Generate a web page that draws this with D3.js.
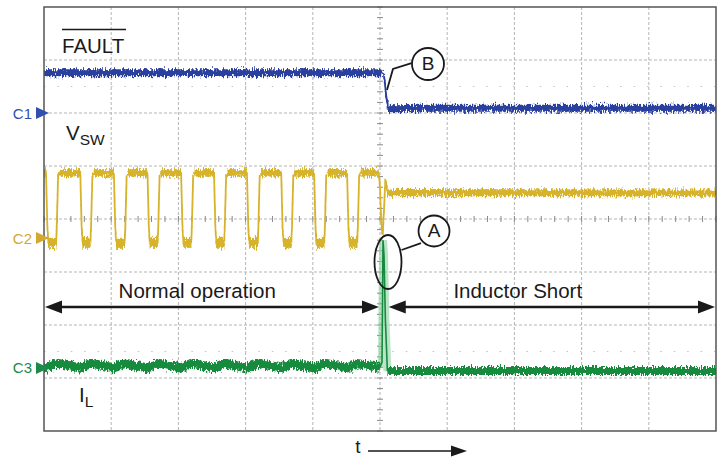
<!DOCTYPE html>
<html><head><meta charset="utf-8">
<script src="https://cdn.jsdelivr.net/npm/d3@7"></script>
<style>
html,body{margin:0;padding:0;background:#fff;}
svg{display:block;font-family:"Liberation Sans",Arial,Helvetica,sans-serif;}
</style></head>
<body>
<svg id="chart" width="720" height="457"></svg>
<script>
// ---- data (time in divisions 0..10, amplitude in divisions -4..4) ----
const xDivisions = [0,1,2,3,4,5,6,7,8,9,10];
const yDivisions = [-4,-3,-2,-1,0,1,2,3,4];
const channelNames = ["C1","C2","C3"];
const channelOffsets = [2.0, -0.36, -2.81];

// C1 : FAULT (blue)
const c1Times  = [0, 5.02, 5.06, 5.09, 5.12, 5.16, 5.6, 10];
const c1Values = [2.76, 2.76, 2.72, 2.35, 2.12, 2.08, 2.09, 2.09];

// C2 : VSW (yellow) switching edges
const c2Falls = [0.03, 0.54, 1.04, 1.54, 2.04, 2.53, 3.02, 3.53, 4.02, 4.51];
const c2Rises = [0.19, 0.70, 1.21, 1.70, 2.20, 2.69, 3.19, 3.69, 4.18, 4.67];
const c2High = 0.87;
const c2Low = -0.45;
const c2TailTimes  = [4.98, 5.00, 5.02, 5.04, 5.06, 5.08, 5.12, 5.20, 10];
const c2TailValues = [0.87, 0.60, -0.10, -0.30, 0.20, 0.74, 0.47, 0.50, 0.49];

// C3 : IL (green)
const c3Times  = [0, 0.03, 0.19, 0.54, 0.70, 1.04, 1.21, 1.54, 1.70, 2.04, 2.20, 2.53, 2.69, 3.02, 3.19, 3.53, 3.69, 4.02, 4.18, 4.51, 4.67, 5.00, 5.03, 5.045, 5.06, 5.08, 5.11, 5.3, 10];
const c3Values = [-2.77,-2.80,-2.72,-2.81,-2.72,-2.81,-2.72,-2.81,-2.72,-2.81,-2.72,-2.81,-2.72,-2.81,-2.72,-2.81,-2.72,-2.81,-2.72,-2.81,-2.73,-2.80,-2.70,-0.40,-0.70,-1.90,-2.87,-2.87,-2.87];

const textLabels = ["FAULT","V","SW","I","L","Normal operation","Inductor Short","A","B","t"];

// ---- layout ----
const svg = d3.select("#chart");
const x = d3.scaleLinear().domain([0,10]).range([44,716]);
const y = d3.scaleLinear().domain([-4,4]).range([431,7]);
const colors = {C1:"#2b3f9f", C2:"#d6b32b", C3:"#168a3c"};
const labelColors = {C1:"#3050b0", C2:"#d4a830", C3:"#1c8a48"};

const defs = svg.append("defs");
// deterministic vertical jitter filter to give scope-trace texture
function noiseFilter(id, freq, scale, seed){
  const f = defs.append("filter").attr("id",id).attr("x","-2%").attr("y","-50%").attr("width","104%").attr("height","200%");
  f.append("feTurbulence").attr("type","fractalNoise").attr("baseFrequency",freq).attr("numOctaves",2).attr("seed",seed).attr("result","n");
  f.append("feColorMatrix").attr("in","n").attr("type","matrix")
   .attr("values","0 0 0 0 0.5  0 1 0 0 0  0 0 0 0 0  0 0 0 0 1").attr("result","m");
  f.append("feDisplacementMap").attr("in","SourceGraphic").attr("in2","m").attr("scale",scale)
   .attr("xChannelSelector","R").attr("yChannelSelector","G");
}
noiseFilter("nz1","0.9 0.25",10,3);
noiseFilter("nz2","0.9 0.25",10,7);
noiseFilter("nz3","0.9 0.25",10,11);

// ---- grid ----
const grid = svg.append("g");
grid.selectAll(".vg").data(xDivisions.slice(1,-1)).join("line")
  .attr("x1",d=>x(d)).attr("x2",d=>x(d)).attr("y1",y(4)).attr("y2",y(-4))
  .attr("stroke","#b5b5b5").attr("stroke-width",1).attr("stroke-dasharray","3,2");
grid.selectAll(".hg").data(yDivisions.slice(1,-1)).join("line")
  .attr("x1",x(0)).attr("x2",x(10)).attr("y1",d=>y(d)).attr("y2",d=>y(d))
  .attr("stroke","#b5b5b5").attr("stroke-width",1).attr("stroke-dasharray","3,2");
grid.selectAll(".dg").data([2.5,-2.5]).join("line")
  .attr("x1",x(0)).attr("x2",x(10)).attr("y1",d=>y(d)).attr("y2",d=>y(d))
  .attr("stroke","#c4c4c4").attr("stroke-width",1.2).attr("stroke-dasharray","1.5,11.9");
// centre axes minor ticks
const hTicks = d3.range(0,10.001,0.2);
const vTicks = d3.range(-4,4.001,0.2);
grid.selectAll(".ht").data(hTicks).join("line")
  .attr("x1",d=>x(d)).attr("x2",d=>x(d)).attr("y1",y(0)-3).attr("y2",y(0)+3)
  .attr("stroke","#8a8a8a").attr("stroke-width",1);
grid.selectAll(".vt").data(vTicks).join("line")
  .attr("x1",x(5)-3).attr("x2",x(5)+3).attr("y1",d=>y(d)).attr("y2",d=>y(d))
  .attr("stroke","#8a8a8a").attr("stroke-width",1);

// ---- traces ----
const line = d3.line().x(d=>x(d[0])).y(d=>y(d[1]));

// C1
const c1 = c1Times.map((t,i)=>[t,c1Values[i]]);
const g1 = svg.append("g").attr("filter","url(#nz1)");
g1.append("path").datum(c1).attr("d",line).attr("fill","none")
  .attr("stroke",colors.C1).attr("stroke-width",2);
g1.append("path").datum(c1.slice(0,2)).attr("d",line).attr("fill","none")
  .attr("stroke",colors.C1).attr("stroke-width",7);
g1.append("path").datum(c1.slice(4)).attr("d",line).attr("fill","none")
  .attr("stroke",colors.C1).attr("stroke-width",7);

// C2 build points from edges
const c2 = [[0,c2High]];
const highSegs = [], lowSegs = [];
let prev = 0;
c2Falls.forEach((tf,i)=>{
  const tr = c2Rises[i];
  highSegs.push([[prev,c2High],[tf,c2High]]);
  c2.push([tf,c2High],[tf+0.02,c2Low+0.3],[tf+0.035,c2Low],[tr-0.01,c2Low],[tr,c2Low+0.3],[tr+0.02,c2High-0.05],[tr+0.04,c2High]);
  lowSegs.push([[tf+0.03,c2Low],[tr-0.005,c2Low]]);
  prev = tr+0.04;
});
highSegs.push([[prev,c2High],[4.98,c2High]]);
const c2Tail = c2TailTimes.map((t,i)=>[t,c2TailValues[i]]);
c2.push(...c2Tail);
const g2 = svg.append("g").attr("filter","url(#nz2)");
g2.append("path").datum(c2).attr("d",line).attr("fill","none")
  .attr("stroke",colors.C2).attr("stroke-width",1.8).attr("stroke-linejoin","round");
g2.selectAll(".hs").data(highSegs).join("path").attr("d",line).attr("fill","none")
  .attr("stroke",colors.C2).attr("stroke-width",7.5);
g2.selectAll(".ls").data(lowSegs).join("path").attr("d",line).attr("fill","none")
  .attr("stroke",colors.C2).attr("stroke-width",10);
g2.append("path").datum(c2Tail.slice(6)).attr("d",line).attr("fill","none")
  .attr("stroke",colors.C2).attr("stroke-width",7);

// C3
const c3 = c3Times.map((t,i)=>[t,c3Values[i]]);
const spike = c3.filter(d=>d[0]>=5.0 && d[0]<=5.11);
svg.append("path").datum(spike).attr("d",line).attr("fill","none")
  .attr("stroke","#7fcf98").attr("stroke-width",8).attr("opacity",0.55);
const g3 = svg.append("g").attr("filter","url(#nz3)");
g3.append("path").datum(c3.filter(d=>d[0]<=5.0)).attr("d",line).attr("fill","none")
  .attr("stroke",colors.C3).attr("stroke-width",9);
g3.append("path").datum(c3.filter(d=>d[0]>=5.11)).attr("d",line).attr("fill","none")
  .attr("stroke",colors.C3).attr("stroke-width",8);
svg.append("path").datum(spike).attr("d",line).attr("fill","none")
  .attr("stroke",colors.C3).attr("stroke-width",1.6);

// ---- frame ----
svg.append("rect").attr("x",x(0)).attr("y",y(4)).attr("width",x(10)-x(0)).attr("height",y(-4)-y(4))
  .attr("fill","none").attr("stroke","#555").attr("stroke-width",1.5);

// ---- channel markers ----
const mk = svg.append("g");
channelNames.forEach((c,i)=>{
  const yy = y(channelOffsets[i]);
  mk.append("path").attr("d",`M36,${yy-6}L49,${yy}L36,${yy+6}Z`).attr("fill",labelColors[c]);
  mk.append("text").attr("x",32).attr("y",yy+5.5).attr("text-anchor","end")
    .attr("font-size",15).attr("fill",labelColors[c]).text(c);
});

// ---- annotations ----
const ann = svg.append("g").attr("fill","#1a1a1a");
// FAULT with overline
ann.append("text").attr("x",x(0)+18).attr("y",53).attr("font-size",20.5).text(textLabels[0]);
ann.append("line").attr("x1",x(0)+18).attr("x2",x(0)+82).attr("y1",29.5).attr("y2",29.5)
  .attr("stroke","#1a1a1a").attr("stroke-width",1.5);
// VSW
const vsw = ann.append("text").attr("x",x(0)+22).attr("y",140).attr("font-size",20.5);
vsw.append("tspan").text(textLabels[1]);
vsw.append("tspan").attr("dy",5).attr("font-size",15.5).text(textLabels[2]);
// IL
const il = ann.append("text").attr("x",x(0)+35).attr("y",402).attr("font-size",20.5);
il.append("tspan").text(textLabels[3]);
il.append("tspan").attr("dy",5).attr("font-size",15.5).text(textLabels[4]);

// horizontal double arrows
const arrowV = -1.66;
function hArrow(t0,t1){
  const x0=x(t0)+1, x1=x(t1)-1, yy=y(arrowV);
  ann.append("line").attr("x1",x0+10).attr("x2",x1-10).attr("y1",yy).attr("y2",yy)
    .attr("stroke","#1a1a1a").attr("stroke-width",2.6);
  ann.append("path").attr("d",`M${x0},${yy}L${x0+17},${yy-6.5}L${x0+17},${yy+6.5}Z`);
  ann.append("path").attr("d",`M${x1},${yy}L${x1-17},${yy-6.5}L${x1-17},${yy+6.5}Z`);
}
hArrow(0,5.0);
hArrow(5.115,10);
ann.append("text").attr("x",x(2.28)).attr("y",y(-1.49)).attr("text-anchor","middle").attr("font-size",20.5).text(textLabels[5]);
ann.append("text").attr("x",x(7.05)).attr("y",y(-1.49)).attr("text-anchor","middle").attr("font-size",20.5).text(textLabels[6]);

// B marker
ann.append("path").attr("d",line([[5.104,2.434],[5.193,2.83],[5.47,2.94]]))
  .attr("fill","none").attr("stroke","#1a1a1a").attr("stroke-width",1.8);
ann.append("circle").attr("cx",x(5.714)).attr("cy",y(2.925)).attr("r",16)
  .attr("fill","#fff").attr("stroke","#1a1a1a").attr("stroke-width",1.8);
ann.append("text").attr("x",x(5.714)).attr("y",y(2.925)+6.5).attr("text-anchor","middle").attr("font-size",19).text(textLabels[8]);

// A marker
ann.append("ellipse").attr("cx",x(5.119)).attr("cy",y(-0.811)).attr("rx",13.5).attr("ry",27)
  .attr("fill","none").attr("stroke","#1a1a1a").attr("stroke-width",1.8);
ann.append("path").attr("d",line([[5.32,-0.585],[5.61,-0.455]]))
  .attr("fill","none").attr("stroke","#1a1a1a").attr("stroke-width",1.8);
ann.append("circle").attr("cx",x(5.804)).attr("cy",y(-0.226)).attr("r",15.5)
  .attr("fill","#fff").attr("stroke","#1a1a1a").attr("stroke-width",1.8);
ann.append("text").attr("x",x(5.804)).attr("y",y(-0.226)+6.5).attr("text-anchor","middle").attr("font-size",19).text(textLabels[7]);

// time arrow
ann.append("text").attr("x",358).attr("y",453).attr("text-anchor","middle").attr("font-size",19).text(textLabels[9]);
ann.append("line").attr("x1",368).attr("x2",455).attr("y1",451).attr("y2",451).attr("stroke","#1a1a1a").attr("stroke-width",1.5);
ann.append("path").attr("d","M467,451L451,445.5L451,456.5Z");
</script>
</body></html>
